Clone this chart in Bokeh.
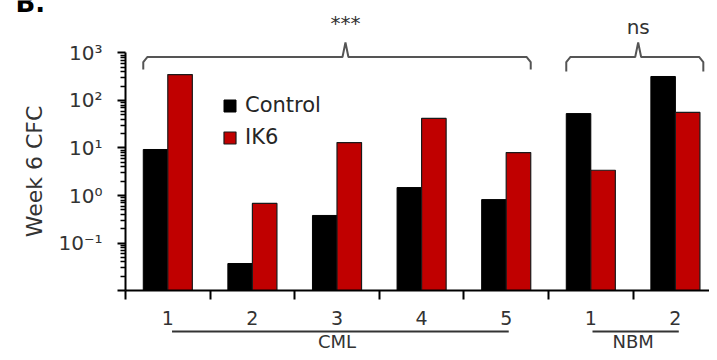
from bokeh.plotting import figure
from bokeh.models import (Range1d, FixedTicker, CustomJSTickFormatter, Legend,
                          LegendItem, ColumnDataSource)
from bokeh.transform import dodge
from bokeh.core.properties import value
from bokeh.embed import file_html
from bokeh.resources import INLINE

# ---------------- data ----------------
groups = [1, 2, 3, 4, 5, 6, 7]
x_labels = ["1", "2", "3", "4", "5", "1", "2"]
control = [9.3, 0.037, 0.38, 1.47, 0.82, 53, 320]
ik6 = [352, 0.68, 13, 42, 8.0, 3.4, 56]
series_names = ["Control", "IK6"]
y_tick_values = [0.01, 0.1, 1, 10, 100, 1000]
y_tick_labels = ["", "10⁻¹", "10⁰", "10¹", "10²", "10³"]
cohort_names = ["CML", "NBM"]
bracket_text = ["***", "ns"]
y_title = "Week 6 CFC"
panel_letter = "B."

# ---------------- layout constants ----------------
W, H = 709, 352
PX_PER_UNIT = 84.6
FRAME_LEFT_PX = 125
x_lo = 0.5 - FRAME_LEFT_PX / PX_PER_UNIT
x_hi = x_lo + W / PX_PER_UNIT
y_lo, y_hi = 10 ** -3.305, 10 ** 4.105
axis_floor = 0.01

cohort_start = [1.05, 6.02]
cohort_end = [5.03, 7.04]
cohort_center = [3.0, 6.5]
cohort_line_y = 10 ** -2.863
cohort_text_y = 10 ** -3.074

br_x0 = [0.71, 5.71]
br_x1 = [5.29, 7.33]
br_mid = [3.1, 6.56]
br_y = [824, 824]
br_end_y = [450, 408]
br_peak_y = [1660, 1660]
br_text_y = [4180, 3520]

FONT = "DejaVu Sans"
TXT = "#333333"

p = figure(width=W, height=H, x_range=Range1d(x_lo, x_hi),
           y_range=Range1d(y_lo, y_hi), y_axis_type="log",
           output_backend="svg", toolbar_location=None, min_border=0)
p.outline_line_color = None
p.grid.visible = False
p.background_fill_color = "white"

src = ColumnDataSource(dict(x=groups, control=control, ik6=ik6))
bw = 0.29
r1 = p.vbar(x=dodge("x", -0.145, range=p.x_range), top="control", bottom=axis_floor,
            width=bw, source=src, fill_color="#000000", line_color="#000000", line_width=1)
r2 = p.vbar(x=dodge("x", 0.145, range=p.x_range), top="ik6", bottom=axis_floor,
            width=bw, source=src, fill_color="#C00000", line_color="#1a1a1a", line_width=1.2)

# ---------------- axes ----------------
xa = p.xaxis[0]
xa.fixed_location = axis_floor
xa.bounds = (0.5, 7.5)
xa.ticker = FixedTicker(ticks=groups, minor_ticks=[g - 0.5 for g in groups] + [7.5])
xa.formatter = CustomJSTickFormatter(args=dict(labels=x_labels),
                                     code="return labels[Math.round(tick) - 1];")
xa.major_tick_out = 0
xa.major_tick_in = 0
xa.minor_tick_out = 9
xa.minor_tick_in = 0
xa.axis_line_width = 2
xa.axis_line_color = "black"
xa.minor_tick_line_width = 2
xa.minor_tick_line_color = "black"
xa.major_label_standoff = 11
xa.major_label_text_font = FONT
xa.major_label_text_font_size = "19px"
xa.major_label_text_color = TXT

ya = p.yaxis[0]
ya.fixed_location = 0.5
ya.bounds = (0.01, 1000)
ya.ticker = FixedTicker(ticks=y_tick_values,
                        minor_ticks=[k * 10.0 ** e for e in range(-2, 3) for k in range(2, 10)])
ya.formatter = CustomJSTickFormatter(args=dict(labels=y_tick_labels),
                                     code="return labels[Math.round(Math.log10(tick)) + 2];")
ya.major_tick_out = 8
ya.major_tick_in = 0
ya.minor_tick_out = 5
ya.minor_tick_in = 0
ya.axis_line_width = 2
ya.axis_line_color = "black"
ya.major_tick_line_width = 2
ya.major_tick_line_color = "black"
ya.minor_tick_line_width = 1.5
ya.minor_tick_line_color = "black"
ya.major_label_standoff = 15
ya.major_label_text_font = FONT
ya.major_label_text_font_size = "20px"
ya.major_label_text_color = TXT
ya.axis_label = y_title
ya.axis_label_text_font = FONT
ya.axis_label_text_font_size = "22px"
ya.axis_label_text_font_style = "normal"
ya.axis_label_text_color = TXT
ya.axis_label_standoff = 8

# ---------------- brackets ----------------
xs, ys = [], []
for x0, x1, xm, yh, ye, yp in zip(br_x0, br_x1, br_mid, br_y, br_end_y, br_peak_y):
    yc = yh * 0.78
    xs.append([x0, x0, x0 + 0.05, xm - 0.035, xm, xm + 0.035, x1 - 0.05, x1, x1])
    ys.append([ye, yc, yh, yh, yp, yh, yh, yc, ye])
p.multi_line(xs=xs, ys=ys, line_color="#555555", line_width=2)
p.text(x=br_mid, y=br_text_y, text=bracket_text, text_align="center",
       text_baseline="middle", text_font=value(FONT), text_font_size="20px",
       text_color=TXT)

# ---------------- cohort underlines ----------------
p.segment(x0=cohort_start, y0=[cohort_line_y] * 2, x1=cohort_end, y1=[cohort_line_y] * 2,
          line_color="#333333", line_width=2)
p.text(x=cohort_center, y=[cohort_text_y] * 2, text=cohort_names, text_align="center",
       text_baseline="middle", text_font=value(FONT), text_font_size="18px",
       text_color=TXT)

# ---------------- panel letter ----------------
p.text(x=[-0.80], y=[10 ** 4.042], text=[panel_letter],
       text_align="left", text_baseline="middle", text_font=value(FONT),
       text_font_size="26px", text_font_style="bold", text_color="black")

# ---------------- legend ----------------
legend = Legend(items=[LegendItem(label=series_names[0], renderers=[r1]),
                       LegendItem(label=series_names[1], renderers=[r2])],
                location=(222, 203), orientation="vertical",
                border_line_color=None, background_fill_alpha=0,
                padding=0, margin=0, spacing=8,
                glyph_width=15, glyph_height=15, label_height=20, label_standoff=8,
                label_text_font=FONT, label_text_font_size="21px",
                label_text_color="#262626")
p.add_layout(legend)

open("out.html", "w").write(file_html(p, INLINE))
